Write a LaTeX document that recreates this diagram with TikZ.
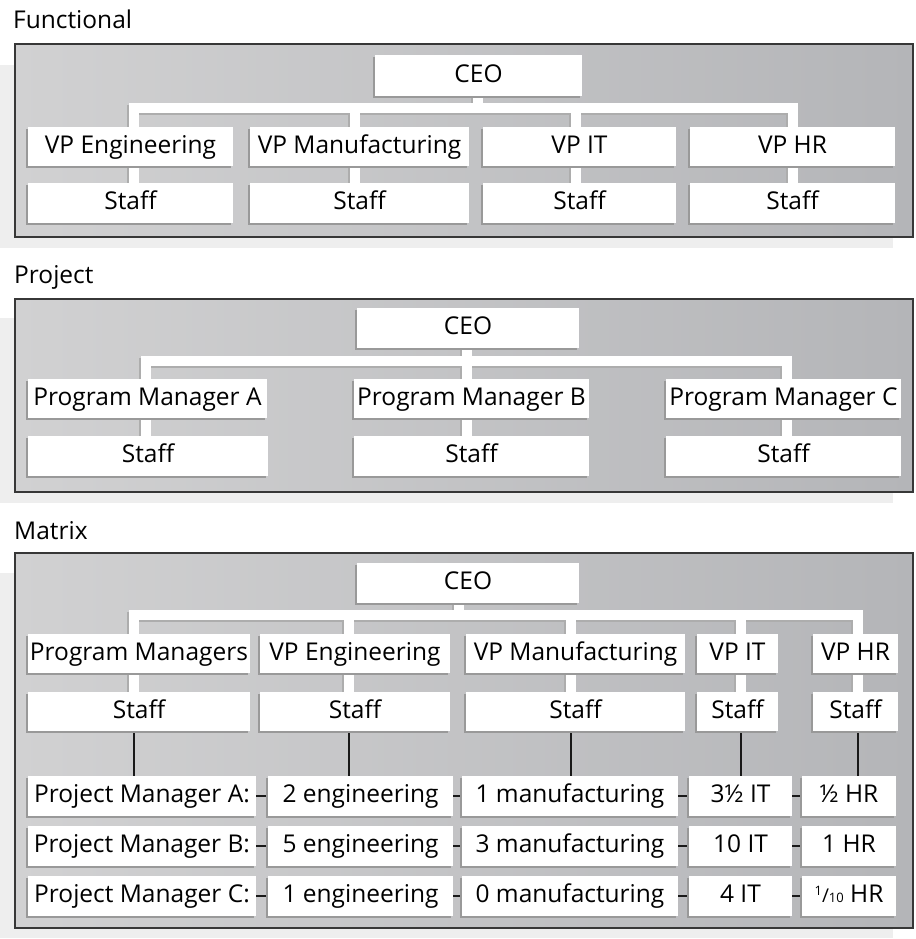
\documentclass[tikz,border=0pt]{standalone}
\usepackage{fontspec}
\setmainfont{Open Sans}
\usetikzlibrary{shadows,calc}
\pgfdeclarelayer{bg}\pgfdeclarelayer{wl}\pgfsetlayers{bg,wl,main}
\definecolor{pl}{RGB}{209,209,210}
\definecolor{pr}{RGB}{180,181,184}
\definecolor{pborder}{RGB}{55,55,55}
\definecolor{outsh}{RGB}{238,238,238}
\newcommand\obox[6]{\node[box, minimum width={(#4)-(#2)}, minimum height={(#5)-(#3)}] (#1) at ({((#2)+(#4))/2},{((#3)+(#5))/2}) {#6};}
\newcommand\frc[2]{{\fontsize{13}{13}\selectfont\raisebox{7.5pt}{#1}}{\fontsize{19}{19}\selectfont/}{\fontsize{13}{13}\selectfont #2}}
\newcommand\allwires{%
  % Functional
  \draw[wr] (fs1.north -| fb1) -- (fb1) -- (fb4) -- (fs4.north -| fb4);
  \draw[wr] (fb2) -- (fs2.north -| fb2);
  \draw[wr] (fb3) -- (fs3.north -| fb3);
  \draw[wr] (fceo.south -| fbc) -- (fbc);
  % Project
  \draw[wr] (ps1.north -| pb1) -- (pb1) -- (pb3) -- (ps3.north -| pb3);
  \draw[wr] (pceo.south -| pb2) -- (ps2.north -| pb2);
  % Matrix
  \draw[wr] (ms1.north -| mb1) -- (mb1) -- (mb5) -- (ms5.north -| mb5);
  \draw[wr] (mb2) -- (ms2.north -| mb2);
  \draw[wr] (mb3) -- (ms3.north -| mb3);
  \draw[wr] (mb4) -- (ms4.north -| mb4);
  \draw[wr] (mceo.south -| mbc) -- (mbc);
}
\begin{document}
\begin{tikzpicture}[x=1pt,y=-1pt,font=\fontsize{24.5}{29}\selectfont,
  box/.style={fill=white, inner sep=0pt, text height=17.5pt, text depth=4pt,
    drop shadow={shadow xshift=-2pt, shadow yshift=-2pt, fill=black!40, opacity=1}},
  title/.style={anchor=base west, inner sep=0pt},
  panel/.style={left color=pl, right color=pr, draw=pborder, line width=1.2pt},
  blk/.style={draw=black!90, line width=1.3pt}]
\useasboundingbox (0,0) rectangle (915,939);

\begin{pgfonlayer}{bg}
  \fill[outsh] (0,65) rectangle (893,248);
  \shadedraw[panel] (15,44) rectangle (913,237);
  \fill[outsh] (0,318) rectangle (893,503);
  \shadedraw[panel] (15,299) rectangle (913,492);
  \fill[outsh] (0,573) rectangle (893,938);
  \shadedraw[panel] (15,553) rectangle (913,928);
\end{pgfonlayer}

% titles
\node[title] (tfun) at (13,29) {Functional};
\node[title] (tpro) at (14,283) {Project};
\node[title] (tmat) at (14,539) {Matrix};

% Functional
\obox{fceo}{375}{55}{582}{96}{CEO}
\obox{fv1}{28}{127}{233}{166}{VP Engineering}
\obox{fv2}{250}{127}{469}{166}{VP Manufacturing}
\obox{fv3}{483}{127}{676}{166}{VP IT}
\obox{fv4}{690}{127}{895}{166}{VP HR}
\obox{fs1}{28}{183}{233}{223}{Staff}
\obox{fs2}{250}{183}{469}{223}{Staff}
\obox{fs3}{483}{183}{676}{223}{Staff}
\obox{fs4}{690}{183}{895}{223}{Staff}
\coordinate (fb1) at (134,108);
\coordinate (fb2) at (355,108);
\coordinate (fb3) at (576,108);
\coordinate (fb4) at (793,108);
\coordinate (fbc) at (478,108);

% Project
\obox{pceo}{357}{308}{579}{348}{CEO}
\obox{pm1}{28}{379}{267}{418}{Program Manager A}
\obox{pm2}{354}{379}{589}{418}{Program Manager B}
\obox{pm3}{666}{379}{901}{418}{Program Manager C}
\obox{ps1}{28}{436}{268}{476}{Staff}
\obox{ps2}{354}{436}{589}{476}{Staff}
\obox{ps3}{666}{436}{901}{476}{Staff}
\coordinate (pb1) at (146,361);
\coordinate (pb2) at (467,361);
\coordinate (pb3) at (787,361);

% Matrix
\obox{mceo}{357}{563}{579}{603}{CEO}
\obox{mv1}{28}{634}{250}{673}{Program Managers}
\obox{mv2}{260}{634}{450}{673}{VP Engineering}
\obox{mv3}{466}{634}{685}{673}{VP Manufacturing}
\obox{mv4}{697}{634}{778}{673}{VP IT}
\obox{mv5}{813}{634}{898}{673}{VP HR}
\obox{ms1}{28}{692}{250}{731}{Staff}
\obox{ms2}{260}{692}{450}{731}{Staff}
\obox{ms3}{466}{692}{685}{731}{Staff}
\obox{ms4}{697}{692}{778}{731}{Staff}
\obox{ms5}{813}{692}{898}{731}{Staff}
\coordinate (mb1) at (134,615);
\coordinate (mb2) at (349,615);
\coordinate (mb3) at (571,615);
\coordinate (mb4) at (741,615);
\coordinate (mb5) at (858,615);
\coordinate (mbc) at (459,615);

\obox{ra1}{28}{776}{256}{816}{Project Manager A:}
\obox{ra2}{268}{776}{453}{816}{2 engineering}
\obox{ra3}{462}{776}{678}{816}{1 manufacturing}
\obox{ra4}{689}{776}{792}{816}{3½ IT}
\obox{ra5}{802}{776}{896}{816}{½ HR}
\obox{rb1}{28}{826}{256}{866}{Project Manager B:}
\obox{rb2}{268}{826}{453}{866}{5 engineering}
\obox{rb3}{462}{826}{678}{866}{3 manufacturing}
\obox{rb4}{689}{826}{792}{866}{10 IT}
\obox{rb5}{802}{826}{896}{866}{1 HR}
\obox{rc1}{28}{876}{256}{916}{Project Manager C:}
\obox{rc2}{268}{876}{453}{916}{1 engineering}
\obox{rc3}{462}{876}{678}{916}{0 manufacturing}
\obox{rc4}{689}{876}{792}{916}{4 IT}
\obox{rc5}{802}{876}{896}{916}{\frc{1}{10} HR}

\begin{pgfonlayer}{wl}
  \begin{scope}[transform canvas={xshift=-2pt,yshift=-2pt},
      wr/.style={draw=black!32, line width=10pt, line join=miter}]
    \allwires
  \end{scope}
  \begin{scope}[wr/.style={draw=white, line width=10pt, line join=miter}]
    \allwires
  \end{scope}
  \foreach \i in {1,...,5}{
    \draw[blk] (ms\i.south -| mb\i) -- (ra\i.north -| mb\i);
  }
  \foreach \r in {a,b,c}{
    \draw[blk] (r\r1.east) -- (r\r2.west);
    \draw[blk] (r\r2.east) -- (r\r3.west);
    \draw[blk] (r\r3.east) -- (r\r4.west);
    \draw[blk] (r\r4.east) -- (r\r5.west);
  }
\end{pgfonlayer}
\end{tikzpicture}
\end{document}
